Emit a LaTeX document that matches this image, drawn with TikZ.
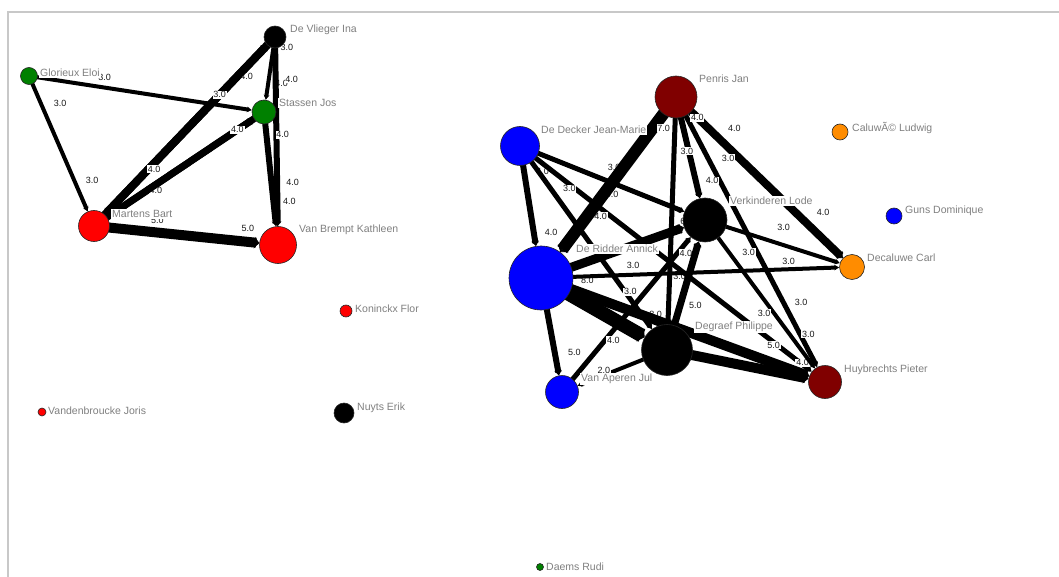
\documentclass[tikz,border=0pt]{standalone}
\usepackage{fontspec}
\setmainfont{Liberation Sans}
\usetikzlibrary{arrows.meta}
\definecolor{maroonish}{RGB}{128,0,0}
\definecolor{leaf}{RGB}{0,128,0}
\definecolor{amber}{RGB}{255,140,0}
\definecolor{framegray}{RGB}{200,200,200}
\definecolor{labelgray}{RGB}{128,128,128}
\pgfdeclarelayer{edges}
\pgfsetlayers{edges,main}
\tikzset{
  dot/.style 2 args={circle, draw=black!85, line width=.6pt, fill=#1, minimum size=#2, inner sep=0pt},
  who/.style={anchor=west, fill=white, inner sep=1pt, text=labelgray, font=\fontsize{10.5}{12}\selectfont},
  link/.style={line width=#1, -{Stealth[length=5pt, width=1.5pt 1]}},
  wt/.style={fill=white, inner sep=.8pt, text=black!90, font=\fontsize{9}{10}\selectfont}
}

\begin{document}
\begin{tikzpicture}[x=1pt, y=-1pt]
\useasboundingbox (0,0) rectangle (1059,577);
\draw[framegray, line width=2pt] (8,577) -- (8,12.5) -- (1059,12.5);

% people, left group
\node[dot={black}{22pt}] (dvi) at (275,37) {};
\node[dot={leaf}{17pt}] (ge) at (29,76) {};
\node[dot={leaf}{24pt}] (sj) at (264,112) {};
\node[dot={red}{31pt}] (mb) at (94,226) {};
\node[dot={red}{37pt}] (vbk) at (278,245) {};
\node[dot={red}{12pt}] (kf) at (346,311) {};
\node[dot={red}{8pt}] (vj) at (42,412) {};
\node[dot={black}{20pt}] (ne) at (344,413) {};
\node[dot={leaf}{7pt}] (dr) at (540,567) {};

% people, right group
\node[dot={maroonish}{42pt}] (pj) at (676,97) {};
\node[dot={blue}{39pt}] (ddj) at (520,146) {};
\node[dot={amber}{16pt}] (cl) at (840,132) {};
\node[dot={black}{44pt}] (vl) at (705,220) {};
\node[dot={blue}{16pt}] (gd) at (894,216) {};
\node[dot={amber}{25pt}] (dc) at (852,267) {};
\node[dot={blue}{64pt}] (dra) at (541,278) {};
\node[dot={black}{51pt}] (dp) at (667,350) {};
\node[dot={maroonish}{33pt}] (hp) at (825,382) {};
\node[dot={blue}{33pt}] (vaj) at (562,392) {};

% names
\node[who] (dvi-n) at (289,30) {De Vlieger Ina};
\node[who] (ge-n) at (39,73) {Glorieux Eloi};
\node[who] (sj-n) at (278,103) {Stassen Jos};
\node[who] (mb-n) at (111,214) {Martens Bart};
\node[who] (vbk-n) at (298,230) {Van Brempt Kathleen};
\node[who] (kf-n) at (354,309) {Koninckx Flor};
\node[who] (vj-n) at (47,411) {Vandenbroucke Joris};
\node[who] (ne-n) at (356,408) {Nuyts Erik};
\node[who] (dr-n) at (545,567) {Daems Rudi};
\node[who] (pj-n) at (698,79) {Penris Jan};
\node[who] (ddj-n) at (540,130) {De Decker Jean-Marie};
\node[who] (cl-n) at (851,128) {CaluwÃ© Ludwig};
\node[who] (vl-n) at (729,201) {Verkinderen Lode};
\node[who] (gd-n) at (904,211) {Guns Dominique};
\node[who] (dc-n) at (866,258) {Decaluwe Carl};
\node[who] (dra-n) at (575,249) {De Ridder Annick};
\node[who] (dp-n) at (694,327) {Degraef Philippe};
\node[who] (hp-n) at (843,370) {Huybrechts Pieter};
\node[who] (vaj-n) at (580,379) {Van Aperen Jul};

\begin{pgfonlayer}{edges}
% left group
\draw[link=4pt] (ge.center) -- (sj) node[wt, pos=.33, shift={(2,-10)}] {3.0};
\draw[link=4pt] (ge.center) -- (mb) node[wt, pos=.256, shift={(16,-7)}] {3.0} node[wt, pos=.818, shift={(15,-6)}] {3.0};
\draw[link=4pt] (dvi.center) -- (sj) node[wt, pos=.128, shift={(13,2)}] {3.0} node[wt, pos=.693, shift={(13,3)}] {4.0};
\draw[link=6pt] (dvi.center) -- (vbk) node[wt, pos=.222, shift={(16,0)}] {4.0} node[wt, pos=.869, shift={(12,0)}] {4.0};
\draw[link=6pt] (sj.center) -- (vbk) node[wt, pos=.215, shift={(16,-2)}] {4.0} node[wt, pos=.636, shift={(21,-2)}] {4.0};
\draw[link=7pt] (sj.center) -- (mb) node[wt, pos=.702, shift={(2,5)}] {4.0};
\draw[link=8pt] (dvi.center) -- (mb) node[wt, pos=.196, shift={(5,5)}] {4.0};
\draw[link=7pt] (mb.center) -- (sj) node[wt, pos=.898] {4.0};
\draw[link=8pt] (mb.center) -- (dvi) node[wt, pos=.330, shift={(3,3)}] {4.0} node[wt, pos=.725] {3.0};
\draw[link=10pt] (mb.center) -- (vbk) node[wt, pos=.377, shift={(1,-12)}] {5.0} node[wt, pos=.925, shift={(1,-13)}] {5.0};

% right group
\draw[link=6pt] (ddj.center) -- (dra) node[wt, pos=.288, shift={(18,-3)}] {4.0} node[wt, pos=.893, shift={(17,-3)}] {4.0};
\draw[link=5pt] (pj.center) -- (dp) node[wt, pos=.545, shift={(15,1)}] {6.0} node[wt, pos=.787, shift={(10,1)}] {3.0};
\draw[link=5pt] (ddj.center) -- (vl) node[wt, pos=.536, shift={(6,-14)}] {3.0};
\draw[link=5pt] (ddj.center) -- (hp) node[wt, pos=.176, shift={(-2,3)}] {3.0} node[wt, pos=.278, shift={(11,-14)}] {4.0}
  node[wt, pos=.873, shift={(-1,2)}] {5.0} node[wt, pos=.965, shift={(1,-1)}] {4.0};
\draw[link=5pt] (ddj.center) -- (dp) node[wt, pos=.46, shift={(20,-14)}] {4.0} node[wt, pos=.807, shift={(4,-2)}] {3.0};
\draw[link=6pt] (pj.center) -- (vl) node[wt, pos=.537, shift={(-2,0)}] {3.0};
\draw[link=5pt] (pj.center) -- (hp) node[wt, pos=.298, shift={(-6,3)}] {4.0} node[wt, pos=.563, shift={(-7,3)}] {3.0}
  node[wt, pos=.787, shift={(14,-7)}] {3.0};
\draw[link=4pt] (vl.center) -- (hp) node[wt, pos=.592, shift={(-6,5)}] {3.0} node[wt, pos=.831, shift={(12,-9)}] {3.0};
\draw[link=4pt] (vl.center) -- (dc) node[wt, pos=.546, shift={(5,-16)}] {3.0};
\draw[link=8pt] (pj.center) -- (dc) node[wt, pos=.128] {4.0} node[wt, pos=.278, shift={(12,-13)}] {4.0}
  node[wt, pos=.343, shift={(-5,6)}] {3.0} node[wt, pos=.804, shift={(13,-14)}] {4.0};
\draw[link=6pt] (dra.center) -- (vaj) node[wt, pos=.80, shift={(19,-4)}] {5.0};
\draw[link=4pt] (dp.center) -- (vaj) node[wt, pos=.696, shift={(-1,-4)}] {2.0};
\draw[link=5pt] (vaj.center) -- (vl) node[wt, pos=.36, shift={(5,4)}] {4.0} node[wt, pos=.923, shift={(5,4)}] {4.0};
\draw[link=7pt] (dp.center) -- (vl) node[wt, pos=.45, shift={(14,4)}] {5.0};
\draw[link=14pt] (dra.center) -- (dp) node[wt, pos=.352, shift={(10,-18)}] {8.0} node[wt, pos=.99, shift={(12,-22)}] {8.0};
\draw[link=4pt] (dra.center) -- (dc) node[wt, pos=.309, shift={(0,-9)}] {3.0} node[wt, pos=.830, shift={(0,-8)}] {3.0};
\draw[link=10pt] (dra.center) -- (hp);
\draw[link=10pt] (dp.center) -- (hp);
\draw[link=9pt] (dra.center) -- (vl);
\draw[link=12pt] (pj.center) -- (dra) node[wt, pos=.168, shift={(7,5)}] {7.0};
\end{pgfonlayer}
\end{tikzpicture}
\end{document}
